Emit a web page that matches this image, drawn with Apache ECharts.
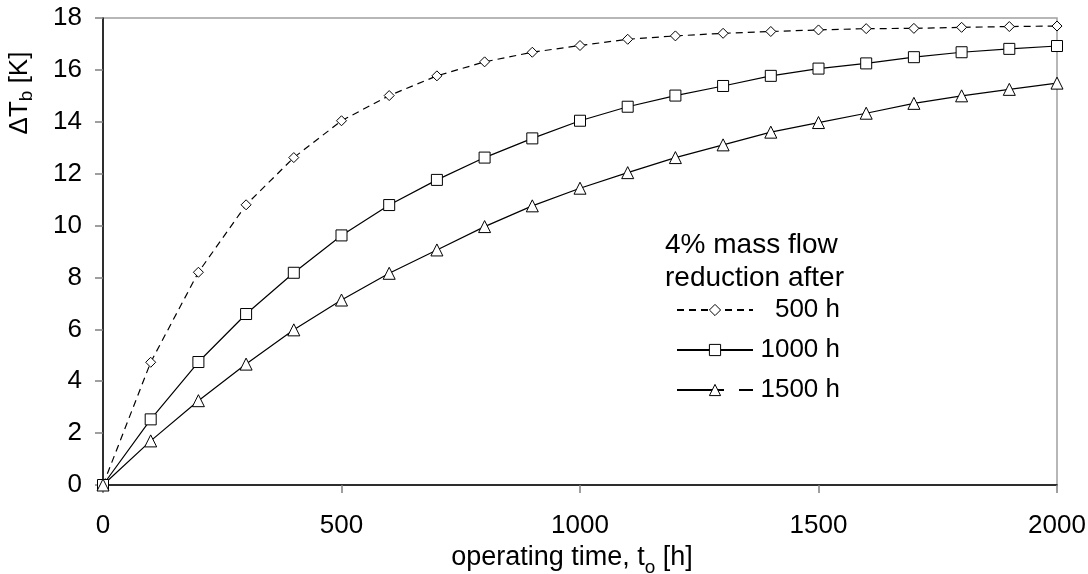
<!DOCTYPE html>
<html>
<head>
<meta charset="utf-8">
<script src="https://cdn.jsdelivr.net/npm/echarts@6/dist/echarts.min.js"></script>
<style>
  html, body { margin: 0; padding: 0; background: #fff; }
  #chart { width: 1088px; height: 574px; }
</style>
</head>
<body>
<div id="chart"></div>
<script>
const FONT = '"Liberation Sans", Arial, sans-serif'

// operating time t_o [h]
const hours = [0, 100, 200, 300, 400, 500, 600, 700, 800, 900, 1000,
  1100, 1200, 1300, 1400, 1500, 1600, 1700, 1800, 1900, 2000]

// ΔT_b [K], 4% mass flow reduction after ...
const after500 = [0, 4.73, 8.2, 10.8, 12.62, 14.04, 15.01, 15.77, 16.31, 16.68, 16.94,
  17.18, 17.31, 17.41, 17.48, 17.54, 17.59, 17.6, 17.64, 17.67, 17.69]
const after1000 = [0, 2.53, 4.74, 6.59, 8.18, 9.62, 10.79, 11.76, 12.62, 13.36, 14.04,
  14.58, 15.01, 15.38, 15.77, 16.05, 16.25, 16.49, 16.68, 16.81, 16.92]
const after1500 = [0, 1.7, 3.25, 4.66, 5.98, 7.13, 8.16, 9.06, 9.96, 10.76, 11.44,
  12.04, 12.62, 13.11, 13.6, 13.97, 14.33, 14.71, 15.0, 15.25, 15.49]

const seriesNames = ['500 h', '1000 h', '1500 h']
const legendTitle = '4% mass flow\nreduction after'

const pairs = arr => hours.map((h, i) => [h, arr[i]])

const mkSeries = (name, arr, symbol, size, dash) => ({
  name,
  type: 'line',
  data: pairs(arr),
  symbol,
  symbolSize: size,
  showAllSymbol: true,
  lineStyle: { color: '#000', width: 1.2, type: dash },
  itemStyle: { color: '#fff', borderColor: '#000', borderWidth: 1 },
  emphasis: { disabled: true },
})

// main text + lowered subscript
const subRich = (size, pad) => ({
  m: { fontFamily: FONT, fontSize: size, lineHeight: 28, color: '#000', verticalAlign: 'top' },
  s: { fontFamily: FONT, fontSize: 19, lineHeight: 19, color: '#000', verticalAlign: 'top', padding: [pad, 0, 0, 0] },
})

const chart = echarts.init(document.getElementById('chart'), null, { renderer: 'canvas' })
chart.setOption({
  animation: false,
  backgroundColor: '#fff',
  grid: {
    left: 103, right: 31, top: 18, bottom: 89,
    show: true, borderColor: '#a0a0a0', borderWidth: 1.5,
    containLabel: false, outerBoundsMode: 'none',
  },
  xAxis: {
    type: 'value',
    min: 0, max: 2000, interval: 500,
    name: '{m|operating time, t}{s|o}{m| [h]}',
    nameLocation: 'middle',
    nameGap: 58,
    nameTextStyle: { rich: subRich(27, 14), padding: [0, 16, 0, 0] },
    axisLine: { lineStyle: { color: '#000', width: 1.5 } },
    axisTick: { length: 8, lineStyle: { color: '#808080', width: 1.5 } },
    axisLabel: { margin: 28, fontSize: 26, fontFamily: FONT, color: '#000', formatter: v => String(v) },
    splitLine: { show: false },
  },
  yAxis: {
    type: 'value',
    min: 0, max: 18, interval: 2,
    axisLine: { show: true, lineStyle: { color: '#000', width: 1.5 } },
    axisTick: { show: true, length: 8, lineStyle: { color: '#808080', width: 1.5 } },
    axisLabel: { margin: 21, fontSize: 26, fontFamily: FONT, color: '#000' },
    splitLine: { show: false },
  },
  legend: {
    orient: 'vertical',
    left: 676, top: 297, padding: 0,
    itemWidth: 76, itemHeight: 14, itemGap: 14,
    selectedMode: false,
    data: [seriesNames[0], seriesNames[1], { name: seriesNames[2], lineStyle: { type: [47, 15, 30] } }],
    formatter: n => '{r|' + n + '}',
    itemStyle: { borderWidth: 1 },
    textStyle: {
      color: '#000', fontFamily: FONT, fontSize: 26,
      rich: { r: { width: 82, align: 'right', fontFamily: FONT, fontSize: 26, lineHeight: 26, color: '#000' } },
    },
  },
  graphic: [
    {
      type: 'text', left: 665, top: 229,
      style: { text: legendTitle, fontFamily: FONT, fontSize: 28, lineHeight: 33, fill: '#000' },
    },
    {
      type: 'text', x: 21, y: 93, rotation: Math.PI / 2,
      style: {
        text: '{m|ΔT}{s|b}{m| [K]}', rich: subRich(26, 10),
        align: 'center', verticalAlign: 'middle',
      },
    },
  ],
  series: [
    mkSeries(seriesNames[0], after500, 'diamond', 10, [7, 5]),
    mkSeries(seriesNames[1], after1000, 'rect', 11, 'solid'),
    mkSeries(seriesNames[2], after1500, 'triangle', 12, 'solid'),
  ],
})
</script>
</body>
</html>
